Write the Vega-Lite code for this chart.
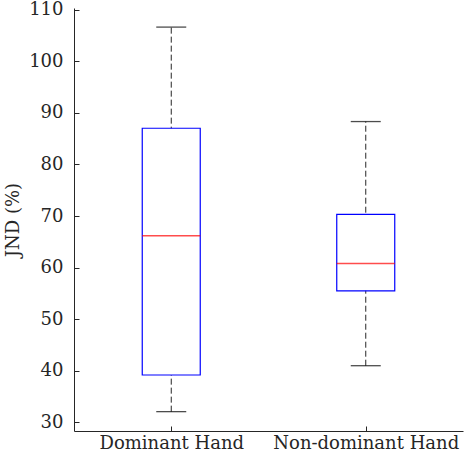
{
  "$schema": "https://vega.github.io/schema/vega-lite/v6.json",
  "autosize": "none",
  "padding": {"left": 74, "top": 8, "right": 3, "bottom": 26},
  "width": 389,
  "height": 423,
  "background": "white",
  "config": {
    "view": {"stroke": null},
    "font": "DejaVu Serif",
    "axis": {
      "grid": false,
      "domainColor": "#262626",
      "tickColor": "#262626",
      "labelColor": "#262626",
      "titleColor": "#262626",
      "labelFont": "DejaVu Serif",
      "titleFont": "DejaVu Serif",
      "labelFontSize": 18,
      "titleFontSize": 18,
      "titleFontWeight": "normal",
      "labelLimit": 0,
      "domainWidth": 1,
      "tickWidth": 1
    }
  },
  "data": {
    "values": [
      {"group": "Dominant Hand", "min": 32.1, "q1": 39.2, "median": 66.2, "q3": 87.0, "max": 106.6},
      {"group": "Non-dominant Hand", "min": 41.0, "q1": 55.5, "median": 60.8, "q3": 70.3, "max": 88.3}
    ]
  },
  "encoding": {
    "x": {
      "field": "group",
      "type": "nominal",
      "sort": null,
      "scale": {"type": "point", "padding": 0.5},
      "axis": {"title": null, "labelAngle": 0, "tickSize": -5, "labelPadding": 8, "labelBaseline": "top"}
    }
  },
  "layer": [
    {
      "mark": {"type": "rule", "color": "#262626", "strokeDash": [6, 3], "strokeWidth": 1},
      "encoding": {
        "y": {"field": "min", "type": "quantitative",
          "scale": {"domain": [28.35, 110.3], "nice": false, "zero": false},
          "axis": {"title": "JND (%)", "values": [30, 40, 50, 60, 70, 80, 90, 100, 110], "tickSize": -5, "labelPadding": 16, "titlePadding": 6}},
        "y2": {"field": "max"}
      }
    },
    {
      "mark": {"type": "tick", "orient": "horizontal", "color": "#000000", "size": 30, "thickness": 1.3},
      "encoding": {"y": {"field": "min", "type": "quantitative"}}
    },
    {
      "mark": {"type": "tick", "orient": "horizontal", "color": "#000000", "size": 30, "thickness": 1.3},
      "encoding": {"y": {"field": "max", "type": "quantitative"}}
    },
    {
      "mark": {"type": "bar", "width": 58, "fill": "white", "stroke": "#0000FF", "strokeWidth": 1.2},
      "encoding": {
        "y": {"field": "q1", "type": "quantitative"},
        "y2": {"field": "q3"}
      }
    },
    {
      "mark": {"type": "tick", "orient": "horizontal", "color": "#FF0000", "size": 58, "thickness": 1.5},
      "encoding": {"y": {"field": "median", "type": "quantitative"}}
    }
  ]
}
